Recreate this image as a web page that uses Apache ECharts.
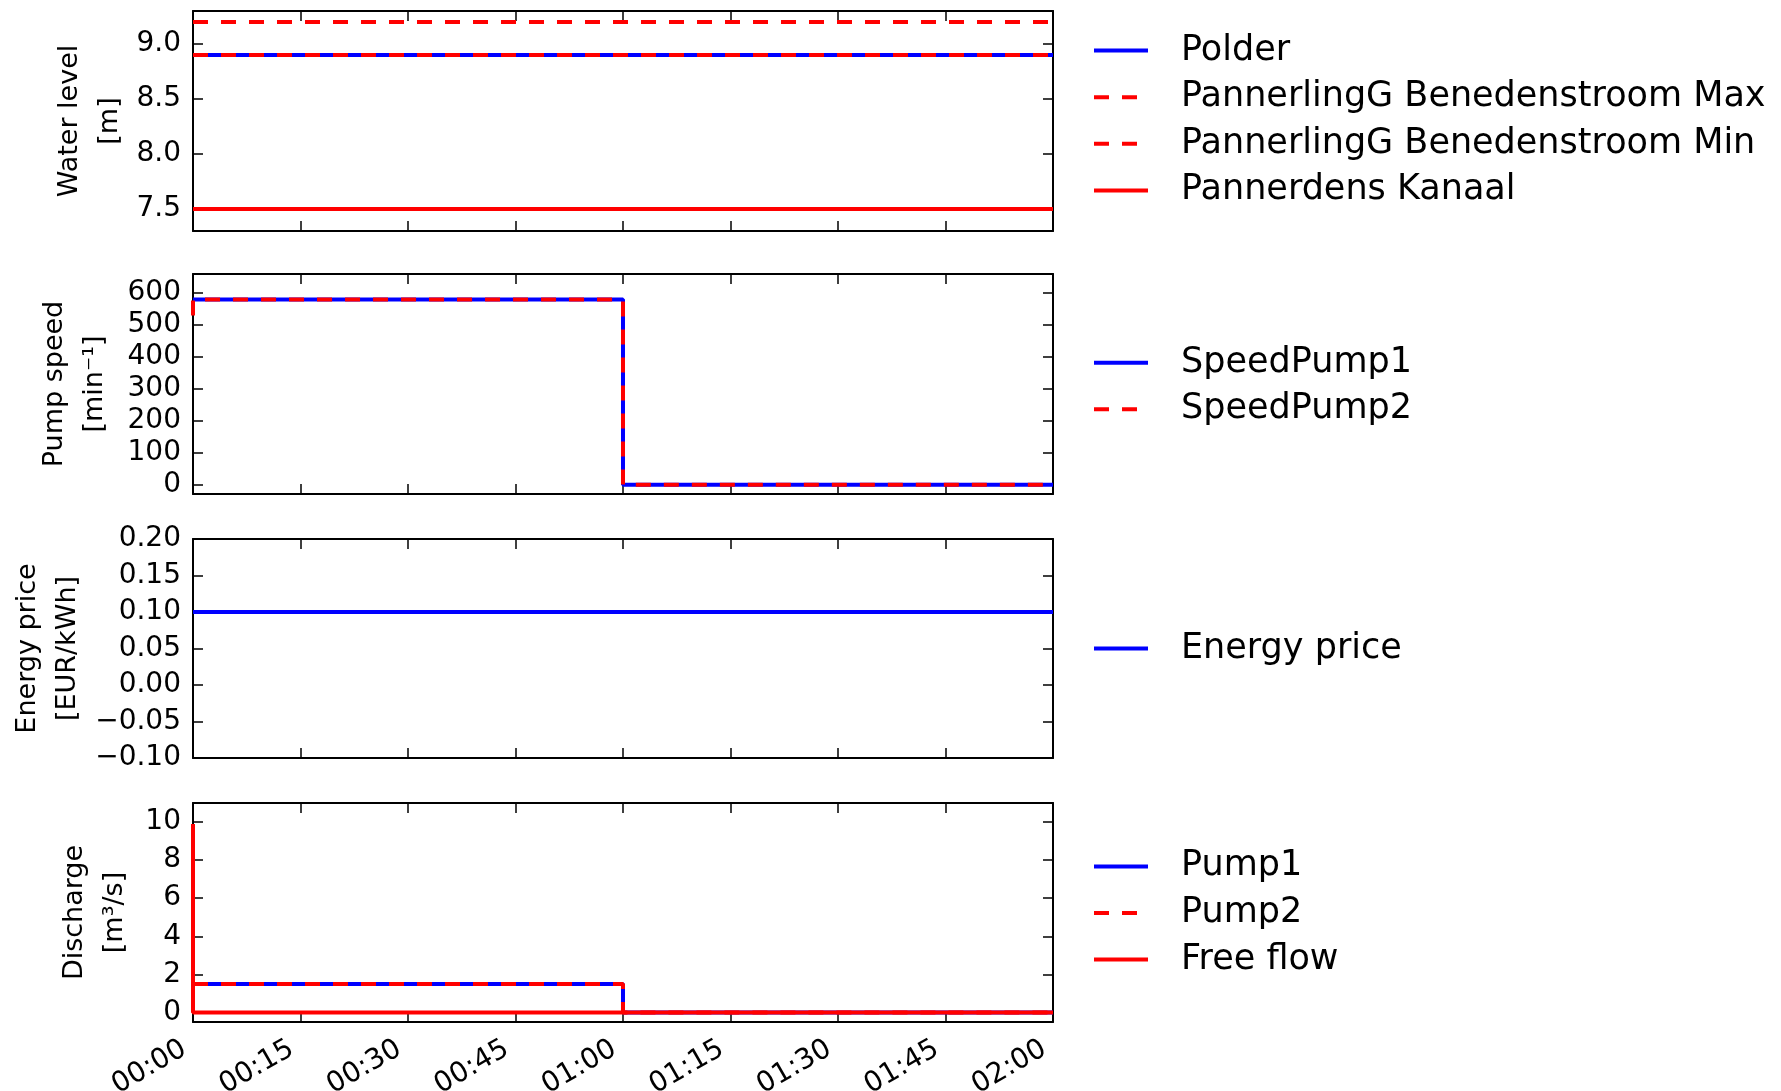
<!DOCTYPE html>
<html><head><meta charset="utf-8">
<script src="https://cdn.jsdelivr.net/npm/echarts@6/dist/echarts.min.js"></script>
<style>html,body{margin:0;padding:0;background:#fff}#c{width:1781px;height:1091px}</style>
</head><body><div id="c"></div>
<script>
// ---- data ----
const timeTicks = [0, 15, 30, 45, 60, 75, 90, 105, 120];           // minutes
const timeLabels = ['00:00','00:15','00:30','00:45','01:00','01:15','01:30','01:45','02:00'];
const lineTime = [0, 120];
const stepTime = [0, 15, 30, 45, 60, 75, 90, 105, 120];

const polder     = [8.9, 8.9];
const benedenMax = [9.2, 9.2];
const benedenMin = [8.9, 8.9];
const kanaal     = [7.5, 7.5];

const speedPump1 = [580, 580, 580, 580, 580, 0, 0, 0, 0];
const speedPump2 = [530, 580, 580, 580, 580, 0, 0, 0, 0];

const energyPrice = [0.1, 0.1];

const pump1    = [1.5, 1.5, 1.5, 1.5, 1.5, 0, 0, 0, 0];
const pump2    = [1.5, 1.5, 1.5, 1.5, 1.5, 0, 0, 0, 0];
const freeFlow = [9.9, 0, 0, 0, 0, 0, 0, 0, 0];

const wlTicks = [7.5, 8.0, 8.5, 9.0];
const wlLabels = ['7.5', '8.0', '8.5', '9.0'];
const speedTicks = [0, 100, 200, 300, 400, 500, 600];
const speedLabels = ['0', '100', '200', '300', '400', '500', '600'];
const priceTicks = [-0.10, -0.05, 0.00, 0.05, 0.10, 0.15, 0.20];
const priceLabels = ['\u22120.10', '\u22120.05', '0.00', '0.05', '0.10', '0.15', '0.20'];
const dischargeTicks = [0, 2, 4, 6, 8, 10];
const dischargeLabels = ['0', '2', '4', '6', '8', '10'];

// ---- helpers ----
const FONT = 'DejaVu Sans';
const BLUE = '#0000ff', RED = '#ff0000';
const DASH = [15, 13];
const zip = (xs, ys) => xs.map((x, i) => [x, ys[i]]);

const panels = [
  { top: 11, height: 220, min: 7.3, max: 9.3, ticks: wlTicks, labels: wlLabels,
    name: 'Water level\n[m]', nameGap: 63, legendCenter: 120.5,
    series: [
      { name: 'Polder', x: lineTime, y: polder, color: BLUE, dash: false },
      { name: 'PannerlingG Benedenstroom Max', x: lineTime, y: benedenMax, color: RED, dash: true },
      { name: 'PannerlingG Benedenstroom Min', x: lineTime, y: benedenMin, color: RED, dash: true },
      { name: 'Pannerdens Kanaal', x: lineTime, y: kanaal, color: RED, dash: false }
    ] },
  { top: 274, height: 220, min: -29, max: 660, ticks: speedTicks, labels: speedLabels,
    name: 'Pump speed\n[min\u207B\u00B9]', nameGap: 78, legendCenter: 386,
    series: [
      { name: 'SpeedPump1', x: stepTime, y: speedPump1, color: BLUE, dash: false, step: true },
      { name: 'SpeedPump2', x: stepTime, y: speedPump2, color: RED, dash: true, step: true }
    ] },
  { top: 539, height: 219, min: -0.1, max: 0.2, ticks: priceTicks, labels: priceLabels,
    name: 'Energy price\n[EUR/kWh]', nameGap: 105, legendCenter: 648.5,
    series: [
      { name: 'Energy price', x: lineTime, y: energyPrice, color: BLUE, dash: false }
    ] },
  { top: 803, height: 219, min: -0.5, max: 11, ticks: dischargeTicks, labels: dischargeLabels,
    name: 'Discharge\n[m\u00B3/s]', nameGap: 58, legendCenter: 913,
    series: [
      { name: 'Pump1', x: stepTime, y: pump1, color: BLUE, dash: false, step: true },
      { name: 'Pump2', x: stepTime, y: pump2, color: RED, dash: true, step: true },
      { name: 'Free flow', x: stepTime, y: freeFlow, color: RED, dash: false, step: true }
    ] }
];

const LEFT = 193, WIDTH = 860;
const axisLine = { show: true, onZero: false, lineStyle: { color: '#000', width: 2 } };
const axisTick = { show: true, inside: true, length: 10, lineStyle: { color: '#000', width: 1.5 } };

const grid = [], xAxis = [], yAxis = [], series = [], legend = [];
const ITEM_H = 36, ITEM_GAP = 10.6;

panels.forEach((p, i) => {
  grid.push({ left: LEFT, top: p.top, width: WIDTH, height: p.height, show: false, outerBoundsMode: 'none', containLabel: false });
  const last = i === panels.length - 1;
  xAxis.push({
    type: 'value', gridIndex: i, position: 'bottom', min: 0, max: 120, interval: 15,
    axisLine, axisTick, splitLine: { show: false },
    axisLabel: {
      show: last, rotate: 30, margin: 20, color: '#000', fontFamily: FONT, fontSize: 28,
      padding: [0, 10, 0, 0],
      formatter: v => { const k = timeTicks.indexOf(v); return k >= 0 ? timeLabels[k] : ''; }
    }
  });
  xAxis.push({
    type: 'value', gridIndex: i, position: 'top', min: 0, max: 120, interval: 15,
    axisLine, axisTick, splitLine: { show: false }, axisLabel: { show: false }
  });
  yAxis.push({
    type: 'value', gridIndex: i, position: 'left', min: p.min, max: p.max,
    axisLine, axisTick: Object.assign({}, axisTick, { customValues: p.ticks }),
    splitLine: { show: false },
    axisLabel: {
      customValues: p.ticks, margin: 12, color: '#000', fontFamily: FONT, fontSize: 28,
      formatter: v => { const k = p.ticks.findIndex(t => Math.abs(t - v) < 1e-9); return k >= 0 ? p.labels[k] : ''; }
    },
    name: p.name, nameLocation: 'middle', nameGap: p.nameGap, nameMoveOverlap: false,
    nameTextStyle: { color: '#000', fontFamily: FONT, fontSize: 27, lineHeight: 40 }
  });
  yAxis.push({
    type: 'value', gridIndex: i, position: 'right', min: p.min, max: p.max,
    axisLine, axisTick: Object.assign({}, axisTick, { customValues: p.ticks }),
    splitLine: { show: false }, axisLabel: { show: false, customValues: p.ticks }
  });
  p.series.forEach(s => {
    series.push({
      name: s.name, type: 'line', xAxisIndex: 2 * i, yAxisIndex: 2 * i,
      data: zip(s.x, s.y), step: s.step ? 'start' : false,
      symbol: 'none', showSymbol: false, silent: true,
      lineStyle: { color: s.color, width: 4, type: s.dash ? DASH : 'solid' },
      itemStyle: { color: s.color }
    });
  });
  const n = p.series.length;
  const total = n * ITEM_H + (n - 1) * ITEM_GAP;
  legend.push({
    orient: 'vertical', left: 1092, top: p.legendCenter - total / 2, padding: 0,
    itemWidth: 54, itemHeight: 14, itemGap: ITEM_GAP, selectedMode: false,
    itemStyle: { opacity: 0, borderWidth: 0 },
    lineStyle: { width: 4 },
    data: p.series.map(s => s.name),
    textStyle: { color: '#000', fontFamily: FONT, fontSize: 35, lineHeight: ITEM_H, padding: [0, 0, 0, 28] }
  });
});

const chart = echarts.init(document.getElementById('c'), null, { renderer: 'canvas' });
chart.setOption({ animation: false, backgroundColor: '#fff', grid, xAxis, yAxis, series, legend });
</script></body></html>
